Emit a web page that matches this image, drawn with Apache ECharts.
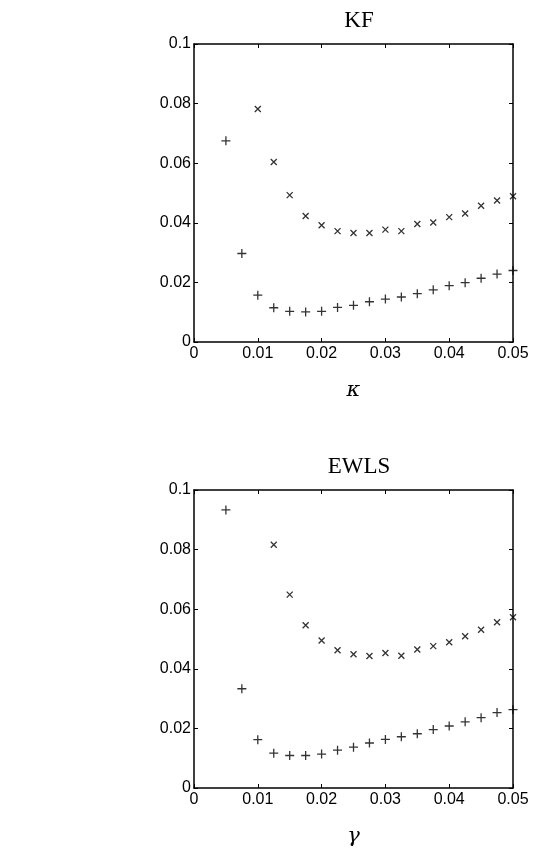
<!DOCTYPE html>
<html>
<head>
<meta charset="utf-8">
<script src="https://cdn.jsdelivr.net/npm/echarts@6/dist/echarts.min.js"></script>
<style>html,body{margin:0;padding:0;background:#fff}#c{width:533px;height:850px}</style>
</head>
<body>
<div id="c"></div>
<script>
// Data
const xPlus = [0.005,0.0075,0.01,0.0125,0.015,0.0175,0.02,0.0225,0.025,0.0275,0.03,0.0325,0.035,0.0375,0.04,0.0425,0.045,0.0475,0.05];
const kfPlus = [0.0675,0.0297,0.0157,0.0115,0.0103,0.0101,0.0103,0.0116,0.0123,0.0135,0.0144,0.0151,0.0162,0.0175,0.0189,0.0199,0.0214,0.0228,0.0240];
const kfCrossX = [0.01,0.0125,0.015,0.0175,0.02,0.0225,0.025,0.0275,0.03,0.0325,0.035,0.0375,0.04,0.0425,0.045,0.0475,0.05];
const kfCross = [0.0782,0.0604,0.0493,0.0423,0.0392,0.0372,0.0366,0.0366,0.0377,0.0372,0.0396,0.0401,0.0419,0.0431,0.0457,0.0475,0.0489];
const ewlsPlus = [0.0933,0.0333,0.0162,0.0117,0.0109,0.0109,0.0114,0.0127,0.0137,0.0151,0.0163,0.0172,0.0182,0.0196,0.0208,0.0222,0.0236,0.0253,0.0263];
const ewlsCrossX = [0.0125,0.015,0.0175,0.02,0.0225,0.025,0.0275,0.03,0.0325,0.035,0.0375,0.04,0.0425,0.045,0.0475,0.05];
const ewlsCross = [0.0816,0.0649,0.0546,0.0495,0.0462,0.0449,0.0443,0.0453,0.0444,0.0465,0.0476,0.0489,0.0509,0.0531,0.0556,0.0573];
const xTicks = [0,0.01,0.02,0.03,0.04,0.05];
const yTicks = [0,0.02,0.04,0.06,0.08,0.1];
const titles = ['KF','EWLS'];
const xNames = ['\u03BA','\u03B3'];

const chart = echarts.init(document.getElementById('c'));
const grids = [
  {left:194, top:44, width:319, height:298},
  {left:194, top:490, width:319, height:298}
];
const fmt = v => (v===0?'0':String(+v.toFixed(3)));
const lbl = {color:'#000',fontFamily:'Liberation Sans, Arial, sans-serif',fontSize:16};
const xAxes = [], yAxes = [];
grids.forEach((g,i)=>{
  xAxes.push({gridIndex:i, type:'value', min:0, max:0.05, interval:0.01,
    axisLine:{show:true,onZero:false,lineStyle:{color:'#000',width:1.5}},
    axisTick:{show:true,inside:true,length:4,lineStyle:{color:'#000'}},
    axisLabel:Object.assign({margin:4,formatter:fmt}, lbl),
    splitLine:{show:false},
    name:xNames[i], nameLocation:'middle', nameGap:38,
    nameTextStyle:{fontFamily:'DejaVu Serif, Liberation Serif, serif',fontStyle:'italic',fontSize:21,color:'#000'}
  });
  xAxes.push({gridIndex:i, type:'value', position:'top', min:0, max:0.05, interval:0.01,
    axisLine:{show:true,onZero:false,lineStyle:{color:'#000',width:1.5}},
    axisTick:{show:true,inside:true,length:4,lineStyle:{color:'#000'}},
    axisLabel:{show:false}, splitLine:{show:false}
  });
  yAxes.push({gridIndex:i, type:'value', min:0, max:0.1, interval:0.02,
    axisLine:{show:true,onZero:false,lineStyle:{color:'#000',width:1.5}},
    axisTick:{show:true,inside:true,length:4,lineStyle:{color:'#000'}},
    axisLabel:Object.assign({margin:3,formatter:fmt}, lbl),
    splitLine:{show:false}
  });
  yAxes.push({gridIndex:i, type:'value', position:'right', min:0, max:0.1, interval:0.02,
    axisLine:{show:true,onZero:false,lineStyle:{color:'#000',width:1.5}},
    axisTick:{show:true,inside:true,length:4,lineStyle:{color:'#000'}},
    axisLabel:{show:false}, splitLine:{show:false}
  });
});
const plusSym = 'path://M0,5L10,5M5,0L5,10';
const crossSym = 'path://M0,0L10,10M10,0L0,10';
const mk = (xs, ys, gi, sym, size) => ({
  type:'scatter', xAxisIndex:gi*2, yAxisIndex:gi*2,
  data: xs.map((x,k)=>[x, ys[k]]),
  symbol:sym, symbolSize:size,
  itemStyle:{color:'none', borderColor:'#000', borderWidth:1.3},
  silent:true, animation:false
});
chart.setOption({
  animation:false,
  title: titles.map((t,i)=>({text:t, left:354, top: i===0?4:450, textAlign:'center',
    textStyle:{fontFamily:'Liberation Serif, Times New Roman, serif',fontWeight:'normal',fontSize:23,color:'#000'}})),
  grid: grids,
  xAxis: xAxes,
  yAxis: yAxes,
  series: [
    mk(xPlus, kfPlus, 0, plusSym, 9),
    mk(kfCrossX, kfCross, 0, crossSym, 6),
    mk(xPlus, ewlsPlus, 1, plusSym, 9),
    mk(ewlsCrossX, ewlsCross, 1, crossSym, 6)
  ]
});
</script>
</body>
</html>
